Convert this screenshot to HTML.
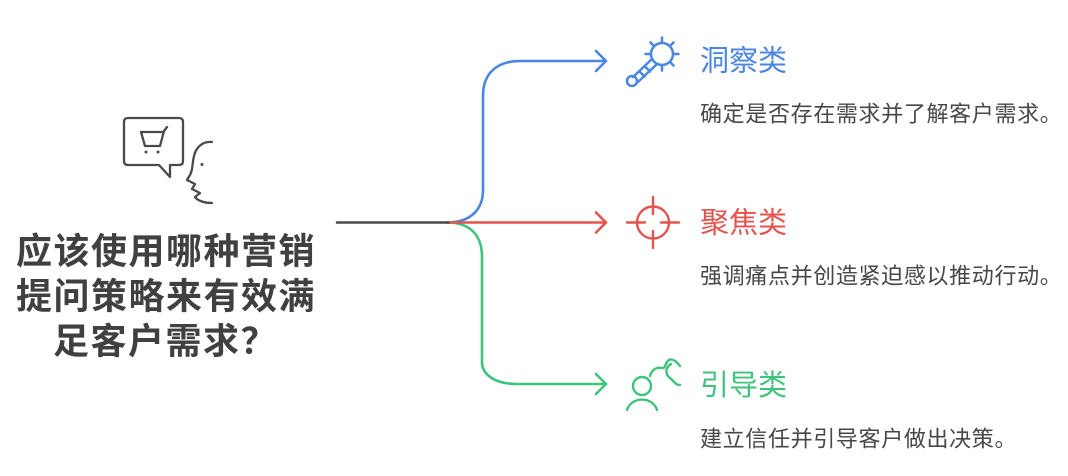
<!DOCTYPE html>
<html>
<head>
<meta charset="utf-8">
<style>
  html, body { margin: 0; padding: 0; background: #ffffff; }
  body { width: 1068px; height: 476px; overflow: hidden; }
  svg { display: block; }
  .t { font-family: "Liberation Sans", "Noto Sans CJK SC", sans-serif; }
</style>
</head>
<body>
<svg width="1068" height="476" viewBox="0 0 1068 476" xmlns="http://www.w3.org/2000/svg">
  <rect width="1068" height="476" fill="#ffffff"/>

  <!-- Left icon: speech bubble with cart + face -->
  <g fill="none" stroke="#4a4a4a" stroke-width="2.3" stroke-linecap="round" stroke-linejoin="round">
    <path d="M128,118 H179 Q183,118 183,122 V161 Q183,165 179,165 H170 V177 L159,165 H128 Q124,165 124,161 V122 Q124,118 128,118 Z"/>
    <path d="M141,132 H163 M141,132 L145,146 H160 L164,131 L167,127"/>
    <path d="M212,142 C203,141 196,147 194,156 C192,164 193,170 190,175 L187,180 L195,184 L192,189 L200,193 L195,197 C197,200 203,203 212,203"/>
  </g>
  <circle cx="146" cy="152" r="1.5" fill="#4a4a4a"/>
  <circle cx="158" cy="152" r="1.5" fill="#4a4a4a"/>
  <circle cx="202" cy="164.5" r="1.5" fill="#4a4a4a"/>

  <!-- Left title -->
  <g class="t" font-size="36" font-weight="bold" fill="#404040" letter-spacing="1.5">
    <text x="16" y="263.5">应该使用哪种营销</text>
    <text x="16" y="308.5">提问策略来有效满</text>
    <text x="53" y="353.5">足客户需求？</text>
  </g>

  <!-- Connectors -->
  <g fill="none" stroke-width="2.6" stroke-linecap="round" stroke-linejoin="round">
    <path d="M447,222.5 C470,222.5 483,210 483,190 L483,96 C483,75 495,61 520,61 L606,61" stroke="#4b86e2"/>
    <path d="M596,51 L606,61 L596,71" stroke="#4b86e2"/>
    <path d="M447,222.5 C470,222.5 482,235 482,257 L482,362 C482,374 494,384 517,384 L606,384" stroke="#3ec37c"/>
    <path d="M596,374 L606,384 L596,394" stroke="#3ec37c"/>
    <path d="M447,222.5 L606,222.5" stroke="#e5534f"/>
    <path d="M596,212.5 L606,222.5 L596,232.5" stroke="#e5534f"/>
    <path d="M337,222.5 L448,222.5" stroke="#4a4a4a"/>
  </g>

  <!-- Blue magnifier icon -->
  <g fill="none" stroke="#4b86e2" stroke-width="2.5" stroke-linecap="round">
    <circle cx="662" cy="54" r="11"/>
    <path d="M662,43 V37.5 M669.8,46.2 L673.6,42.4 M673,54 H678.5 M669.8,61.8 L673.6,65.6 M662,65 V70.5 M654.2,46.2 L650.4,42.4 M651,54 H645.5"/>
    <path d="M651.5,59.5 L633,77 M656.5,64.5 L638,82"/>
    <path d="M640,72 L644.5,76.5 M645.5,67 L650,71.5"/>
    <circle cx="632" cy="81" r="5"/>
  </g>

  <!-- Red target icon -->
  <g fill="none" stroke="#e5534f" stroke-width="2.4" stroke-linecap="round">
    <circle cx="653" cy="222.5" r="16"/>
    <path d="M627,222.5 H645 M661,222.5 H679 M653,197 V214 M653,231 V248"/>
  </g>

  <!-- Green person icon -->
  <g fill="none" stroke="#3ec37c" stroke-width="2.4" stroke-linecap="round" stroke-linejoin="round">
    <circle cx="642" cy="386" r="9"/>
    <path d="M627,410 A15.5,14 0 0 1 657,410"/>
    <path d="M650,376 C652,369 657,367 662,368 C666,369 665,362 669,360 C673,358 677,362 680,366 M671,364 C665,368 665,374 670,378 C674,381 675,385 680,385"/>
  </g>

  <!-- Right titles -->
  <g class="t" font-size="29">
    <text x="700" y="70.5" fill="#4b86e2">洞察类</text>
    <text x="700" y="232.5" fill="#e5534f">聚焦类</text>
    <text x="700" y="395" fill="#3ec37c">引导类</text>
  </g>

  <!-- Descriptions -->
  <g class="t" font-size="22" fill="#474747" letter-spacing="0.65">
    <text x="700" y="121.5">确定是否存在需求并了解客户需求。</text>
    <text x="700" y="283.5">强调痛点并创造紧迫感以推动行动。</text>
    <text x="700" y="446.5">建立信任并引导客户做出决策。</text>
  </g>
</svg>
</body>
</html>
